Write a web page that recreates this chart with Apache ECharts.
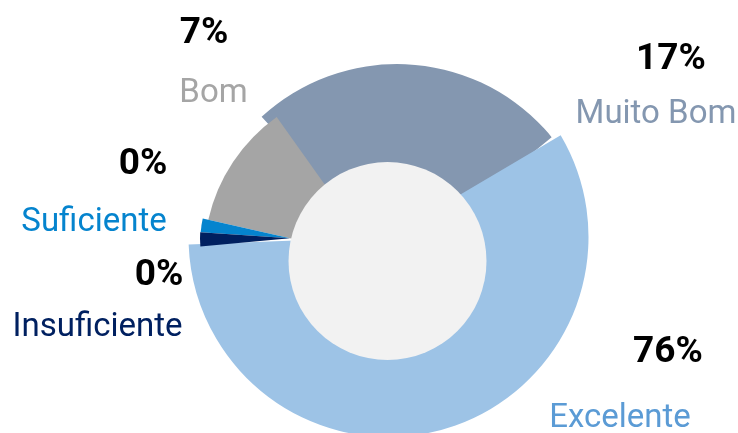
<!DOCTYPE html>
<html>
<head>
<meta charset="utf-8">
<title>Avaliação</title>
<script src="https://cdn.jsdelivr.net/npm/echarts@6/dist/echarts.min.js"></script>
<style>
  html, body { margin: 0; padding: 0; background: #fff; }
  #chart { width: 738px; height: 433px; }
</style>
</head>
<body>
<div id="chart"></div>
<script>
// categorias e valores
const categories = ['Excelente', 'Muito Bom', 'Bom', 'Suficiente', 'Insuficiente'];
const percentLabels = [76, 17, 7, 0, 0];
// share of the circle each slice really covers in the picture (percent)
const sliceShare = [57.9, 25.9, 11.6, 2.5, 2.5];

const sliceColors = ['#9dc3e6', '#8497b0', '#a5a5a5', '#0584ce', '#002060'];
const nameColors = ['#5b9bd5', '#8497b0', '#a5a5a5', '#0584ce', '#002060'];

// each slice sits on its own centre (exploded look); start = screen angle, clockwise from 3 o'clock
const sliceLayout = [
    { center: [388.5, 237], radius: 200, start: 329.4 },
    { center: [397, 264], radius: 200, start: 227.4 },
    { center: [377, 258], radius: 173, start: 192.8 },
    { center: [290, 238.3], radius: 89.5, start: 183.8 },
    { center: [290, 238.3], radius: 90, start: 174.8 }
];
const drawOrder = [1, 2, 0, 3, 4];

const labelSpots = [
    { pct: [668, 353], name: [620, 419] },
    { pct: [671, 59.5], name: [656, 114.5] },
    { pct: [204, 34], name: [213.5, 94] },
    { pct: [143, 164.5], name: [94, 223] },
    { pct: [159, 275.5], name: [97.5, 328] }
];

function sliceSeries(i) {
    const lay = sliceLayout[i];
    return {
        type: 'pie',
        name: categories[i],
        silent: true,
        animation: false,
        center: lay.center,
        radius: [0, lay.radius],
        startAngle: (360 - lay.start) % 360,
        clockwise: true,
        label: { show: false },
        labelLine: { show: false },
        emphasis: { disabled: true },
        itemStyle: { borderWidth: 0 },
        data: [
            { name: categories[i], value: sliceShare[i], itemStyle: { color: sliceColors[i] } },
            { name: 'resto', value: 100 - sliceShare[i], itemStyle: { color: 'rgba(0,0,0,0)' } }
        ]
    };
}

const series = drawOrder.map(sliceSeries);
// furo do meio
series.push({
    type: 'pie',
    silent: true,
    animation: false,
    center: [387.5, 261],
    radius: [0, 99],
    label: { show: false },
    labelLine: { show: false },
    emphasis: { disabled: true },
    itemStyle: { borderWidth: 0, color: '#f2f2f2' },
    data: [{ name: 'furo', value: 1 }]
});

const texts = [];
categories.forEach((c, i) => {
    texts.push({
        type: 'text',
        x: labelSpots[i].pct[0],
        y: labelSpots[i].pct[1],
        style: {
            text: percentLabels[i] + '%',
            font: 'bold 37px Roboto',
            fill: '#000',
            align: 'center', verticalAlign: 'middle',
            textAlign: 'center', textVerticalAlign: 'middle'
        }
    });
    texts.push({
        type: 'text',
        x: labelSpots[i].name[0],
        y: labelSpots[i].name[1],
        style: {
            text: c,
            font: '33px Roboto',
            fill: nameColors[i],
            align: 'center', verticalAlign: 'middle',
            textAlign: 'center', textVerticalAlign: 'middle'
        }
    });
});

const chart = echarts.init(document.getElementById('chart'));
chart.setOption({
    animation: false,
    backgroundColor: '#fff',
    series: series,
    graphic: { elements: texts }
});
</script>
</body>
</html>
